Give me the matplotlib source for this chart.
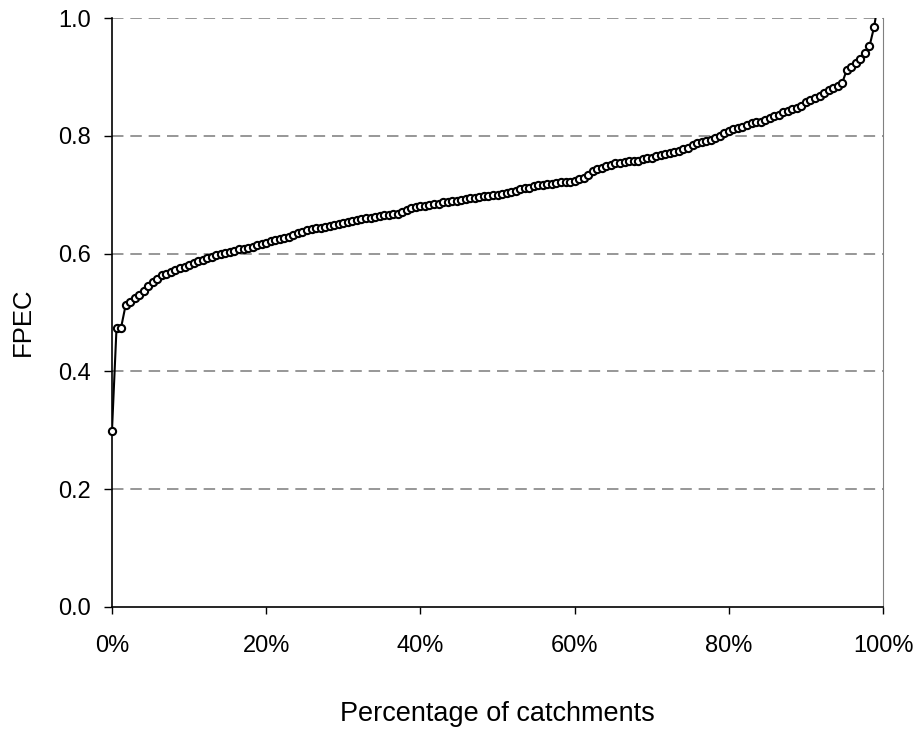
import numpy as np
import matplotlib
matplotlib.use('Agg')
import matplotlib.pyplot as plt
from matplotlib.ticker import FuncFormatter

plt.rcParams['font.family'] = ['Liberation Sans', 'DejaVu Sans']

# FPEC per catchment, sorted
fpec = np.array([
    0.299, 0.473, 0.474, 0.512, 0.518, 0.524, 0.530, 0.537, 0.545, 0.551,
    0.557, 0.563, 0.566, 0.569, 0.572, 0.575, 0.577, 0.581, 0.584, 0.587,
    0.589, 0.592, 0.594, 0.597, 0.599, 0.601, 0.603, 0.605, 0.607, 0.608,
    0.609, 0.612, 0.615, 0.616, 0.618, 0.621, 0.623, 0.625, 0.626, 0.628,
    0.632, 0.635, 0.637, 0.640, 0.641, 0.643, 0.644, 0.646, 0.647, 0.649,
    0.651, 0.652, 0.654, 0.655, 0.657, 0.659, 0.660, 0.661, 0.662, 0.664,
    0.665, 0.666, 0.667, 0.668, 0.671, 0.674, 0.677, 0.679, 0.680, 0.681,
    0.682, 0.684, 0.685, 0.687, 0.688, 0.689, 0.690, 0.691, 0.693, 0.694,
    0.695, 0.696, 0.697, 0.698, 0.699, 0.700, 0.701, 0.703, 0.705, 0.707,
    0.709, 0.711, 0.712, 0.714, 0.716, 0.717, 0.718, 0.719, 0.720, 0.721,
    0.721, 0.722, 0.724, 0.726, 0.728, 0.733, 0.740, 0.744, 0.746, 0.749,
    0.751, 0.753, 0.754, 0.756, 0.757, 0.757, 0.758, 0.760, 0.762, 0.763,
    0.765, 0.767, 0.769, 0.771, 0.773, 0.775, 0.777, 0.779, 0.785, 0.787,
    0.789, 0.791, 0.793, 0.796, 0.800, 0.805, 0.808, 0.811, 0.813, 0.815,
    0.818, 0.822, 0.823, 0.824, 0.826, 0.830, 0.833, 0.836, 0.840, 0.842,
    0.845, 0.847, 0.850, 0.858, 0.861, 0.864, 0.868, 0.873, 0.878, 0.882,
    0.885, 0.890, 0.912, 0.916, 0.923, 0.931, 0.941, 0.952, 0.984, 1.030,
])
n_catch = 170
pct = np.arange(len(fpec)) / n_catch * 100  # rank as percentage of catchments

y_ticks = [0.0, 0.2, 0.4, 0.6, 0.8, 1.0]
x_ticks = [0, 20, 40, 60, 80, 100]

fig = plt.figure(figsize=(9.17, 7.32), dpi=100)
ax = fig.add_axes([0.1221, 0.1708, 0.8409, 0.8046])

# grid lines
for g in y_ticks[1:]:
    ax.axhline(g, color='#7a7a7a', lw=1.1, dashes=(7.5, 4.5), zorder=1)

ax.plot(pct, fpec, color='black', lw=1.5, zorder=3)
vis = fpec <= 1.0
ax.plot(pct[vis], fpec[vis], 'o', ms=5.2, mfc='white', mec='black', mew=1.5,
        zorder=4, clip_on=False)

ax.set_xlim(0, 100)
ax.set_ylim(0, 1.0)
ax.set_xticks(x_ticks)
ax.set_yticks(y_ticks)
ax.xaxis.set_major_formatter(FuncFormatter(lambda v, p: f"{v:.0f}%"))
ax.yaxis.set_major_formatter(FuncFormatter(lambda v, p: f"{v:.1f}"))
ax.tick_params(axis='both', direction='out', labelsize=17, width=1, colors='black')
ax.tick_params(axis='y', length=6, pad=9)
ax.tick_params(axis='x', length=5, pad=15)

ax.spines['top'].set_visible(False)
ax.spines['right'].set_color('#808080')
for s in ['left', 'bottom']:
    ax.spines[s].set_color('black')
    ax.spines[s].set_linewidth(1.2)

ax.set_xlabel('Percentage of catchments', fontsize=19.5, labelpad=32)
ax.set_ylabel('FPEC', fontsize=18.5)
ax.yaxis.set_label_coords(-0.1, 0.484)

fig.savefig('out.png', dpi=100)
